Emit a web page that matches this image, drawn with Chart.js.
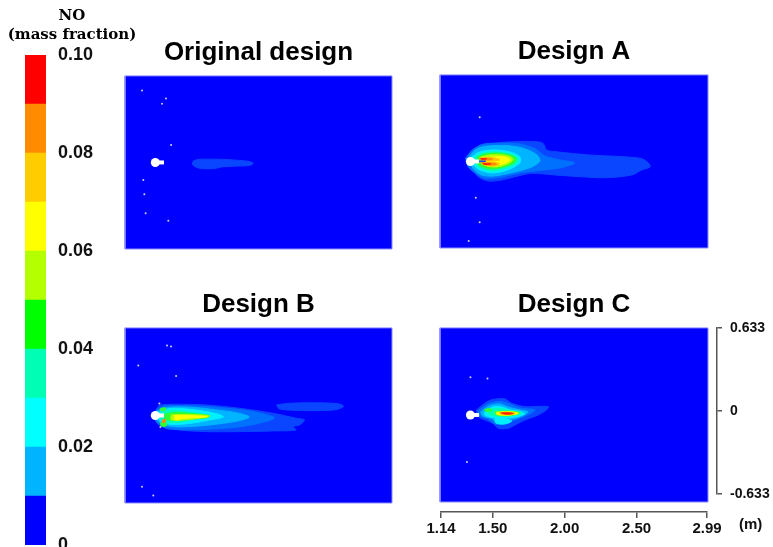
<!DOCTYPE html>
<html>
<head>
<meta charset="utf-8">
<script src="https://cdn.jsdelivr.net/npm/chart.js@4.4.1/dist/chart.umd.min.js"></script>
<style>
  html, body { margin: 0; padding: 0; background: #fff; width: 773px; height: 547px; overflow: hidden; position: relative; }
  canvas { position: absolute; }
  #unit { position: absolute; left: 739px; top: 515px; font: bold 15px "Liberation Sans", Arial, sans-serif; color: #111; }
</style>
</head>
<body>
<canvas id="colorbar" width="144" height="547" style="left:0;top:0;width:144px;height:547px"></canvas>
<canvas id="pOriginal" width="269" height="212" style="left:124px;top:38px;width:269px;height:212px"></canvas>
<canvas id="pA" width="270" height="212" style="left:439px;top:37px;width:270px;height:212px"></canvas>
<canvas id="pB" width="269" height="214" style="left:124px;top:290px;width:269px;height:214px"></canvas>
<canvas id="pC" width="270" height="213" style="left:439px;top:290px;width:270px;height:213px"></canvas>
<canvas id="axisX" width="310" height="77" style="left:420px;top:470px;width:310px;height:77px"></canvas>
<canvas id="axisY" width="66" height="200" style="left:707px;top:310px;width:66px;height:200px"></canvas>
<div id="unit">(m)</div>
<script>
// ---- colour scale (NO mass fraction) ----
const bandEdges = [0, 0.01, 0.02, 0.03, 0.04, 0.05, 0.06, 0.07, 0.08, 0.09, 0.10];
const bandColors = ['#0000ff', '#00b4ff', '#00ffff', '#00ffb4', '#00ff00', '#b4ff00', '#ffff00', '#ffcc00', '#ff8c00', '#ff0000'];
const colorTickValues = [0, 0.02, 0.04, 0.06, 0.08, 0.10];
const colorTickLabels = ['0', '0.02', '0.04', '0.06', '0.08', '0.10'];

// shaded contour levels used inside the panels
const levelValues = [0.002, 0.005, 0.01, 0.015, 0.025, 0.04, 0.055, 0.065, 0.075, 0.085, 0.095];
const levelColors = ['#0a46ff', '#0070ff', '#00b4ff', '#00f0ff', '#00ffb4', '#30ff30', '#b4ff00', '#ffff00', '#ffc800', '#ff8c00', '#ff2000'];

// ---- domain (m) ----
const xRange = [1.14, 2.99];
const yRange = [-0.633, 0.633];
const xTickValues = [1.14, 1.50, 2.00, 2.50, 2.99];
const xTickLabels = ['1.14', '1.50', '2.00', '2.50', '2.99'];
const yTickValues = [-0.633, 0, 0.633];
const yTickLabels = ['-0.633', '0', '0.633'];

// fuel injector (white) and its stem end
const injector = [1.35, 0];
const injectorStemEnd = [1.41, 0];

// ---- NO contour outlines [level index, [[x, y], ...]] ----
const contoursOriginal = [
  [0, [[1.614,0.011],[1.642,0.022],[1.725,0.024],[1.830,0.022],[1.934,0.015],[2.003,0.007],[2.028,-0.007],[2.003,-0.022],[1.899,-0.027],[1.809,-0.033],[1.760,-0.045],[1.670,-0.045],[1.621,-0.029],[1.607,-0.011]]]
];
const contoursA = [
  [0, [[1.322,0.004],[1.359,0.084],[1.449,0.121],[1.587,0.141],[1.772,0.145],[1.850,0.134],[1.876,0.084],[1.933,0.072],[2.162,0.048],[2.395,0.035],[2.522,0.023],[2.568,-0.001],[2.591,-0.038],[2.533,-0.062],[2.464,-0.099],[2.279,-0.119],[2.118,-0.112],[1.933,-0.099],[1.772,-0.087],[1.657,-0.112],[1.565,-0.136],[1.472,-0.143],[1.403,-0.112],[1.368,-0.062],[1.333,-0.026]]],
  [1, [[1.317,0.026],[1.359,0.077],[1.428,0.124],[1.553,0.134],[1.691,0.128],[1.795,0.094],[1.864,0.040],[1.968,0.011],[2.072,-0.011],[1.968,-0.048],[1.830,-0.066],[1.691,-0.084],[1.553,-0.116],[1.449,-0.122],[1.380,-0.084],[1.331,-0.033]]],
  [2, [[1.345,0.040],[1.394,0.092],[1.484,0.114],[1.622,0.114],[1.726,0.092],[1.809,0.048],[1.830,0.004],[1.774,-0.040],[1.657,-0.077],[1.518,-0.106],[1.428,-0.099],[1.366,-0.048]]],
  [3, [[1.359,0.033],[1.414,0.070],[1.518,0.084],[1.622,0.070],[1.691,0.033],[1.691,-0.011],[1.608,-0.062],[1.504,-0.084],[1.414,-0.062],[1.373,-0.026]]],
  [4, [[1.380,0.033],[1.435,0.062],[1.532,0.070],[1.622,0.055],[1.677,0.026],[1.670,-0.011],[1.594,-0.048],[1.497,-0.070],[1.421,-0.048],[1.387,-0.018]]],
  [5, [[1.401,0.033],[1.456,0.055],[1.539,0.062],[1.622,0.048],[1.663,0.026],[1.650,-0.011],[1.580,-0.040],[1.497,-0.055],[1.435,-0.040],[1.401,-0.018]]],
  [6, [[1.421,0.033],[1.484,0.048],[1.567,0.048],[1.629,0.033],[1.643,0.011],[1.608,-0.018],[1.532,-0.040],[1.463,-0.033],[1.421,-0.011]]],
  [7, [[1.442,0.026],[1.511,0.033],[1.587,0.033],[1.622,0.011],[1.574,-0.018],[1.511,-0.026],[1.456,-0.018],[1.435,0.004]]],
  [8, [[1.414,0.026],[1.484,0.029],[1.532,0.022],[1.553,0.011],[1.504,0.004],[1.442,0.007]]],
  [8, [[1.421,-0.007],[1.497,-0.004],[1.553,-0.015],[1.518,-0.033],[1.456,-0.029]]],
  [9, [[1.414,0.022],[1.484,0.023],[1.504,0.015],[1.428,0.011]]],
  [9, [[1.428,-0.011],[1.511,-0.012],[1.532,-0.022],[1.470,-0.026]]],
  [10, [[1.421,0.020],[1.463,0.020],[1.435,0.014]]],
  [10, [[1.435,-0.015],[1.490,-0.018],[1.449,-0.023]]],
  [0, [[1.352,0.005],[1.456,0.002],[1.352,-0.005]]]
];
const contoursB = [
  [0, [[1.378,0.076],[1.470,0.081],[1.702,0.076],[1.933,0.052],[2.164,0.016],[2.326,-0.020],[2.384,-0.033],[2.349,-0.069],[2.303,-0.081],[2.326,-0.105],[2.164,-0.112],[1.933,-0.117],[1.702,-0.117],[1.517,-0.105],[1.424,-0.081],[1.378,-0.057],[1.355,-0.020],[1.355,0.040]]],
  [0, [[2.190,0.076],[2.280,0.088],[2.488,0.091],[2.627,0.083],[2.655,0.065],[2.592,0.040],[2.349,0.036],[2.211,0.047]]],
  [1, [[1.357,0.040],[1.412,0.068],[1.586,0.070],[1.794,0.057],[2.002,0.033],[2.127,0.004],[2.176,-0.018],[2.106,-0.047],[1.933,-0.083],[1.655,-0.102],[1.447,-0.098],[1.378,-0.069],[1.350,-0.033]]],
  [2, [[1.364,0.033],[1.433,0.058],[1.586,0.060],[1.759,0.042],[1.919,0.018],[2.002,-0.011],[1.919,-0.040],[1.725,-0.069],[1.517,-0.083],[1.412,-0.069],[1.364,-0.033]]],
  [3, [[1.378,0.025],[1.447,0.050],[1.551,0.048],[1.690,0.030],[1.794,0.007],[1.822,-0.011],[1.725,-0.033],[1.586,-0.058],[1.461,-0.065],[1.392,-0.047],[1.371,-0.011]]],
  [4, [[1.392,0.018],[1.461,0.036],[1.586,0.025],[1.690,0.007],[1.725,-0.011],[1.621,-0.029],[1.503,-0.051],[1.419,-0.047],[1.385,-0.018]]],
  [5, [[1.419,0.011],[1.503,0.022],[1.621,0.011],[1.725,0.000],[1.704,-0.018],[1.586,-0.025],[1.482,-0.036],[1.419,-0.025]]],
  [5, [[1.385,0.051],[1.419,0.054],[1.419,0.036],[1.385,0.036]]],
  [5, [[1.385,-0.054],[1.426,-0.054],[1.426,-0.076],[1.392,-0.076]]],
  [6, [[1.461,0.004],[1.586,0.007],[1.725,-0.004],[1.586,-0.029],[1.461,-0.031]]],
  [7, [[1.482,0.000],[1.537,0.000],[1.711,-0.009],[1.537,-0.022],[1.489,-0.033]]],
  [9, [[1.399,-0.033],[1.419,-0.029],[1.419,-0.047],[1.399,-0.051]]]
];
const contoursC = [
  [0, [[1.392,0.037],[1.449,0.085],[1.495,0.110],[1.587,0.117],[1.634,0.085],[1.726,0.061],[1.887,0.061],[1.876,0.037],[1.818,0.000],[1.726,-0.037],[1.657,-0.073],[1.610,-0.097],[1.541,-0.097],[1.506,-0.061],[1.449,-0.037],[1.403,-0.012]]],
  [1, [[1.401,0.029],[1.470,0.080],[1.553,0.099],[1.622,0.080],[1.691,0.051],[1.795,0.037],[1.760,0.007],[1.657,-0.037],[1.587,-0.066],[1.518,-0.066],[1.470,-0.029],[1.414,-0.007]]],
  [2, [[1.421,0.022],[1.484,0.069],[1.553,0.080],[1.608,0.058],[1.691,0.037],[1.747,0.022],[1.691,-0.015],[1.608,-0.037],[1.539,-0.044],[1.484,-0.022],[1.435,-0.007]]],
  [3, [[1.449,0.022],[1.504,0.058],[1.567,0.058],[1.622,0.037],[1.705,0.022],[1.726,0.007],[1.657,-0.015],[1.553,-0.026],[1.484,-0.015],[1.449,0.000]]],
  [3, [[1.518,-0.029],[1.587,-0.029],[1.636,-0.044],[1.587,-0.066],[1.525,-0.058]]],
  [4, [[1.463,0.029],[1.518,0.047],[1.574,0.044],[1.636,0.029],[1.705,0.015],[1.636,-0.007],[1.553,-0.011],[1.484,0.000]]],
  [5, [[1.449,0.040],[1.484,0.047],[1.497,0.033],[1.456,0.026]]],
  [5, [[1.518,0.022],[1.608,0.026],[1.691,0.015],[1.622,-0.004],[1.532,0.000]]],
  [6, [[1.525,0.020],[1.622,0.024],[1.684,0.013],[1.615,-0.002],[1.532,0.002]]],
  [7, [[1.532,0.018],[1.622,0.022],[1.677,0.011],[1.608,0.000],[1.539,0.004]]],
  [9, [[1.553,0.017],[1.622,0.018],[1.657,0.011],[1.601,0.004],[1.560,0.007]]],
  [10, [[1.567,0.015],[1.622,0.015],[1.643,0.009],[1.594,0.006]]]
];

// isolated near-zero cells showing as white specks
const specksOriginal = [[1.258,0.526],[1.424,0.467],[1.397,0.430],[1.459,0.128],[1.267,-0.128],[1.274,-0.233],[1.283,-0.372],[1.440,-0.426]];
const specksA = [[1.414,0.324],[1.387,-0.266],[1.414,-0.444],[1.338,-0.581]];
const specksB = [[1.431,0.506],[1.459,0.499],[1.232,0.361],[1.494,0.286],[1.258,-0.516],[1.336,-0.579],[1.378,0.087],[1.385,-0.083]];
const specksC = [[1.350,0.275],[1.468,0.265],[1.326,-0.343]];

const SANS = '"Liberation Sans", Arial, sans-serif';

function closedPath(pts) {
  const out = pts.map(p => ({ x: p[0], y: p[1] }));
  out.push({ x: pts[0][0], y: pts[0][1] });
  return out;
}

function contourPanel(id, title, contours, specks) {
  const fieldCorners = [[xRange[0], yRange[0]], [xRange[1], yRange[0]], [xRange[1], yRange[1]], [xRange[0], yRange[1]]];
  const ds = [];
  ds.push({ data: closedPath(fieldCorners), backgroundColor: '#0000ff', borderColor: '#8c8cff', borderWidth: 1,
            fill: 'shape', pointRadius: 0, tension: 0, clip: 2 });
  contours.forEach(([lv, pts]) => {
    ds.push({ data: closedPath(pts), backgroundColor: levelColors[lv], borderColor: levelColors[lv], borderWidth: 1,
              fill: 'shape', pointRadius: 0, tension: 0.3 });
  });
  ds.push({ data: [{ x: injector[0], y: injector[1] }, { x: injectorStemEnd[0], y: injectorStemEnd[1] }],
            borderColor: '#ffffff', borderWidth: 4, pointRadius: 0, fill: false, tension: 0 });
  ds.push({ data: [{ x: injector[0], y: injector[1] }], showLine: false, pointRadius: 4.5,
            pointBackgroundColor: '#ffffff', pointBorderWidth: 0 });
  ds.push({ data: specks.map(p => ({ x: p[0], y: p[1] })), showLine: false, pointRadius: 1,
            pointBackgroundColor: '#d0d0ff', pointBorderWidth: 0 });
  // first entries drawn first (underneath)
  ds.forEach((d, i) => { d.order = ds.length - i; });

  new Chart(document.getElementById(id), {
    type: 'line',
    data: { datasets: ds },
    options: {
      responsive: false, animation: false, devicePixelRatio: 1, events: [],
      layout: { autoPadding: false, padding: { left: 1, right: 1, top: 0, bottom: 1 } },
      plugins: {
        legend: { display: false }, tooltip: { enabled: false },
        title: { display: true, text: title, color: '#000',
                 font: { family: SANS, weight: 'bold', size: 26, lineHeight: 1.15 }, padding: { top: 0, bottom: 8 } }
      },
      scales: {
        x: { type: 'linear', display: false, min: xRange[0], max: xRange[1] },
        y: { type: 'linear', display: false, min: yRange[0], max: yRange[1] }
      }
    }
  });
}

contourPanel('pOriginal', 'Original design', contoursOriginal, specksOriginal);
contourPanel('pA', 'Design A', contoursA, specksA);
contourPanel('pB', 'Design B', contoursB, specksB);
contourPanel('pC', 'Design C', contoursC, specksC);

// ---- colour bar ----
new Chart(document.getElementById('colorbar'), {
  type: 'bar',
  data: {
    labels: ['NO'],
    datasets: bandColors.map((c, i) => ({
      data: [[bandEdges[i], bandEdges[i + 1]]], backgroundColor: c, borderWidth: 0,
      barPercentage: 1, categoryPercentage: 1, grouped: false, xAxisID: 'x', yAxisID: 'y'
    }))
  },
  options: {
    responsive: false, animation: false, devicePixelRatio: 1, events: [],
    layout: { autoPadding: false, padding: { left: 0, right: 0, top: 0, bottom: 2 } },
    plugins: {
      legend: { display: false }, tooltip: { enabled: false },
      title: { display: true, text: ['NO', '(mass fraction)'], color: '#000',
               font: { family: '"DejaVu Serif", serif', weight: 'bold', size: 15, lineHeight: 19 / 15 },
               padding: { top: 7, bottom: 10 } }
    },
    scales: {
      x: { display: false },
      y: {
        position: 'right', min: bandEdges[0], max: bandEdges[bandEdges.length - 1],
        afterBuildTicks: s => { s.ticks = colorTickValues.map(v => ({ value: v })); },
        afterFit: s => { s.width = 98; s.paddingTop = 0; s.paddingBottom = 0; },
        grid: { display: false, drawTicks: false }, border: { display: false },
        ticks: { padding: 12, color: '#111', font: { family: SANS, weight: 'bold', size: 18 },
                 callback: (v, i) => colorTickLabels[i] }
      },
      // empty spacer on the left so the bar sits 25px in while the heading stays centred
      spacer: {
        type: 'linear', axis: 'y', position: 'left', min: 0, max: 1,
        afterFit: s => { s.width = 25; s.paddingTop = 0; s.paddingBottom = 0; },
        grid: { display: false, drawTicks: false }, border: { display: false }, ticks: { display: false }
      }
    }
  }
});

// ---- length axes ----
const axisColor = '#555';
new Chart(document.getElementById('axisX'), {
  type: 'line',
  data: { datasets: [] },
  options: {
    responsive: false, animation: false, devicePixelRatio: 1, events: [],
    layout: { autoPadding: false, padding: { left: 21, right: 23, top: 0, bottom: 0 } },
    plugins: { legend: { display: false }, tooltip: { enabled: false } },
    scales: {
      x: {
        type: 'linear', position: 'bottom', min: xRange[0], max: xRange[1],
        afterBuildTicks: s => { s.ticks = xTickValues.map(v => ({ value: v })); },
        afterFit: s => { s.height = 35; s.paddingLeft = 0; s.paddingRight = 0; },
        grid: { drawOnChartArea: false, tickLength: 6, color: axisColor, lineWidth: 1.5 },
        border: { display: true, color: axisColor, width: 1.5 },
        ticks: { maxRotation: 0, autoSkip: false, padding: 2, color: '#111',
                 font: { family: SANS, weight: 'bold', size: 15 }, callback: (v, i) => xTickLabels[i] }
      },
      y: { display: false, min: 0, max: 1 }
    }
  }
});

new Chart(document.getElementById('axisY'), {
  type: 'line',
  data: { datasets: [] },
  options: {
    responsive: false, animation: false, devicePixelRatio: 1, events: [],
    layout: { autoPadding: false, padding: { left: 0, right: 0, top: 18, bottom: 16 } },
    plugins: { legend: { display: false }, tooltip: { enabled: false } },
    scales: {
      x: { type: 'linear', display: false, min: 0, max: 1 },
      y: {
        type: 'linear', position: 'right', min: yRange[0], max: yRange[1],
        afterBuildTicks: s => { s.ticks = yTickValues.map(v => ({ value: v })); },
        afterFit: s => { s.width = 56; s.paddingTop = 0; s.paddingBottom = 0; },
        grid: { drawOnChartArea: false, tickLength: 5, color: axisColor, lineWidth: 1.5 },
        border: { display: true, color: axisColor, width: 1.5 },
        ticks: { padding: 8, color: '#111', font: { family: SANS, weight: 'bold', size: 14 },
                 callback: (v, i) => yTickLabels[i] }
      }
    }
  }
});
</script>
</body>
</html>
